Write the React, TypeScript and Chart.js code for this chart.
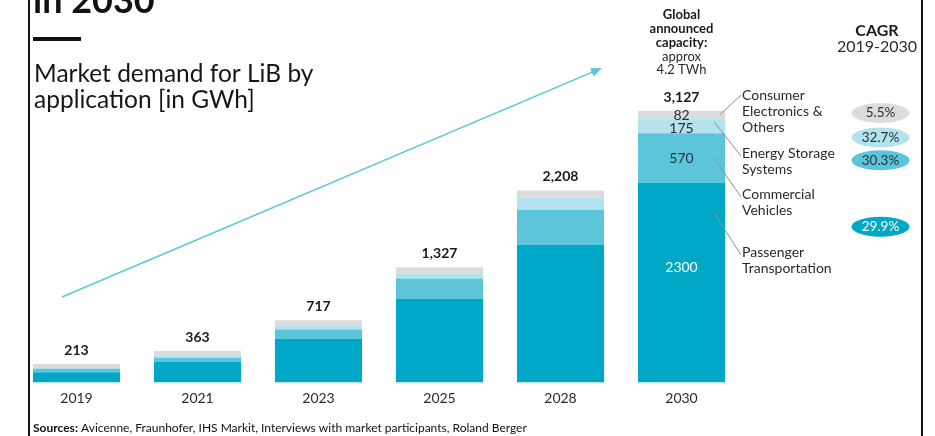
import React, { useEffect, useRef } from "react";
import { Chart, registerables } from "chart.js";

Chart.register(...registerables);

const years = ["2019", "2021", "2023", "2025", "2028", "2030"];
const passenger = [118, 240, 502, 965, 1585, 2300];
const commercial = [40, 46, 110, 233, 405, 570];
const energyStorage = [18, 20, 40, 62, 142, 175];
const consumer = [37, 57, 65, 67, 76, 82];
const seriesNames = ["Passenger Transportation", "Commercial Vehicles", "Energy Storage Systems", "Consumer Electronics & Others"];
const cagr = ["29.9%", "30.3%", "32.7%", "5.5%"];

const COLORS = ["#00a8c7", "#5cc5da", "#b4e2ee", "#dcdcdc"];
const FONT = "Lato, 'Noto Sans', sans-serif";

function txt(ctx: CanvasRenderingContext2D, s: string, x: number, y: number, font: string, color: string, align: CanvasTextAlign = "center", baseline: CanvasTextBaseline = "middle") {
  ctx.font = font;
  ctx.fillStyle = color;
  ctx.textAlign = align;
  ctx.textBaseline = baseline;
  ctx.fillText(s, x, y);
}

const decor = {
  id: "decor",
  beforeDraw(chart: any) {
    const ctx = chart.ctx as CanvasRenderingContext2D;
    ctx.save();
    ctx.fillStyle = "#ffffff";
    ctx.fillRect(0, 0, 935, 436);
    ctx.restore();
  },
  afterDraw(chart: any) {
    const ctx = chart.ctx as CanvasRenderingContext2D;
    const xs = chart.scales.x;
    const ys = chart.scales.y;
    ctx.save();

    // frame lines
    ctx.fillStyle = "#111111";
    ctx.fillRect(28, 0, 2, 436);
    ctx.fillRect(921, 0, 2, 436);

    // title fragment
    txt(ctx, "in 2030", 33, 13, `bold 36px ${FONT}`, "#111", "left", "alphabetic");
    ctx.fillStyle = "#111";
    ctx.fillRect(33, 37, 48, 4);
    txt(ctx, "Market demand for LiB by", 34, 82, `24.5px ${FONT}`, "#161616", "left", "alphabetic");
    txt(ctx, "application [in GWh]", 34, 108, `24.5px ${FONT}`, "#161616", "left", "alphabetic");

    // arrow
    const ax0 = 62, ay0 = 297, ax1 = 602, ay1 = 68;
    const ang = Math.atan2(ay1 - ay0, ax1 - ax0);
    ctx.strokeStyle = "#5cc5da";
    ctx.lineWidth = 1.5;
    ctx.beginPath();
    ctx.moveTo(ax0, ay0);
    ctx.lineTo(ax1 - 8 * Math.cos(ang), ay1 - 8 * Math.sin(ang));
    ctx.stroke();
    ctx.fillStyle = "#5cc5da";
    ctx.beginPath();
    ctx.moveTo(ax1, ay1);
    ctx.lineTo(ax1 - 11 * Math.cos(ang) + 4.5 * Math.sin(ang), ay1 - 11 * Math.sin(ang) - 4.5 * Math.cos(ang));
    ctx.lineTo(ax1 - 11 * Math.cos(ang) - 4.5 * Math.sin(ang), ay1 - 11 * Math.sin(ang) + 4.5 * Math.cos(ang));
    ctx.closePath();
    ctx.fill();

    // totals and year labels
    years.forEach((yr, i) => {
      const cx = xs.getPixelForValue(i);
      const total = passenger[i] + commercial[i] + energyStorage[i] + consumer[i];
      txt(ctx, total.toLocaleString("en-US"), cx, ys.getPixelForValue(total) - 14, `bold 14px ${FONT}`, "#1a1a1a");
      txt(ctx, yr, cx, 398, `14px ${FONT}`, "#2a2a2a");
    });

    // 2030 header
    const last = years.length - 1;
    const cx = xs.getPixelForValue(last);
    txt(ctx, "Global", cx, 15, `bold 13px ${FONT}`, "#1a1a1a");
    txt(ctx, "announced", cx, 29, `bold 13px ${FONT}`, "#1a1a1a");
    txt(ctx, "capacity:", cx, 43, `bold 13px ${FONT}`, "#1a1a1a");
    txt(ctx, "approx", cx, 57, `13px ${FONT}`, "#2a2a2a");
    txt(ctx, "4.2 TWh", cx, 70, `13px ${FONT}`, "#2a2a2a");

    // inner values for 2030
    const bottoms = [0, passenger[last], passenger[last] + commercial[last], passenger[last] + commercial[last] + energyStorage[last]];
    const vals = [passenger[last], commercial[last], energyStorage[last], consumer[last]];
    const mid = (k: number) => (ys.getPixelForValue(bottoms[k]) + ys.getPixelForValue(bottoms[k] + vals[k])) / 2;
    txt(ctx, String(vals[3]), cx, mid(3) + 0.5, `14px ${FONT}`, "#2a2a2a");
    txt(ctx, String(vals[2]), cx, mid(2) + 2.5, `14px ${FONT}`, "#2a2a2a");
    txt(ctx, String(vals[1]), cx, mid(1), `14px ${FONT}`, "#23343a");
    txt(ctx, String(vals[0]), cx, mid(0) - 15, `14px ${FONT}`, "#ffffff");

    // leader lines + series labels
    const barRight = cx + 43.5;
    const lx = barRight + 17;
    const labelLines = [
      ["Passenger", "Transportation"],
      ["Commercial", "Vehicles"],
      ["Energy Storage", "Systems"],
      ["Consumer", "Electronics &", "Others"],
    ];
    const labelTop = [252, 194, 153, 95];
    const leaderStart = [
      [barRight - 11, mid(0) - 70],
      [barRight - 11, mid(1)],
      [barRight - 11, mid(2) - 4],
      [barRight - 5, mid(3)],
    ];
    ctx.strokeStyle = "#8f8f8f";
    ctx.lineWidth = 1;
    for (let k = 0; k < 4; k++) {
      ctx.beginPath();
      ctx.moveTo(leaderStart[k][0], leaderStart[k][1]);
      ctx.lineTo(lx - 1, labelTop[k] - (k === 3 ? 0 : -3));
      ctx.stroke();
      labelLines[k].forEach((line, j) => {
        txt(ctx, line, lx, labelTop[k] + j * 16, `14px ${FONT}`, "#2a2a2a", "left");
      });
    }

    // CAGR
    const px = 880.5;
    txt(ctx, "CAGR", 877, 31, `bold 16px ${FONT}`, "#1a1a1a");
    txt(ctx, "2019-2030", 877, 47, `16px ${FONT}`, "#2a2a2a");
    const pillY = [226.7, 160.3, 137.5, 113];
    for (let k = 0; k < 4; k++) {
      ctx.fillStyle = COLORS[k];
      ctx.beginPath();
      ctx.ellipse(px, pillY[k], 29, 10, 0, 0, Math.PI * 2);
      ctx.fill();
      txt(ctx, cagr[k], px, pillY[k], `13.5px ${FONT}`, k === 0 ? "#ffffff" : "#23343a");
    }

    // source
    ctx.font = `bold 12px ${FONT}`;
    const sw = ctx.measureText("Sources:").width;
    txt(ctx, "Sources:", 33, 428, `bold 12px ${FONT}`, "#111", "left");
    txt(ctx, " Avicenne, Fraunhofer, IHS Markit, Interviews with market participants, Roland Berger", 33 + sw, 428, `12px ${FONT}`, "#111", "left");

    ctx.restore();
  },
};

export default function App() {
  const ref = useRef<HTMLCanvasElement>(null);
  useEffect(() => {
    if (!ref.current) return;
    const series = [passenger, commercial, energyStorage, consumer];
    const chart = new Chart(ref.current, {
      type: "bar",
      data: {
        labels: years,
        datasets: series.map((d, k) => ({
          label: seriesNames[k],
          data: d,
          backgroundColor: COLORS[k],
          borderWidth: 0,
          barPercentage: 0.72,
          categoryPercentage: 1,
        })),
      },
      options: {
        responsive: false,
        animation: false,
        devicePixelRatio: 1,
        layout: { padding: { left: 16, right: 193, top: 70, bottom: 53.5 } },
        plugins: { legend: { display: false }, tooltip: { enabled: false } },
        scales: {
          x: { display: false, stacked: true },
          y: { display: false, stacked: true, min: 0, max: 3600 },
        },
      },
      plugins: [decor],
    });
    return () => chart.destroy();
  }, []);
  return (
    <div style={{ position: "fixed", left: 0, top: 0, width: 935, height: 436, background: "#fff" }}>
      <canvas ref={ref} width={935} height={436} style={{ display: "block" }} />
    </div>
  );
}
